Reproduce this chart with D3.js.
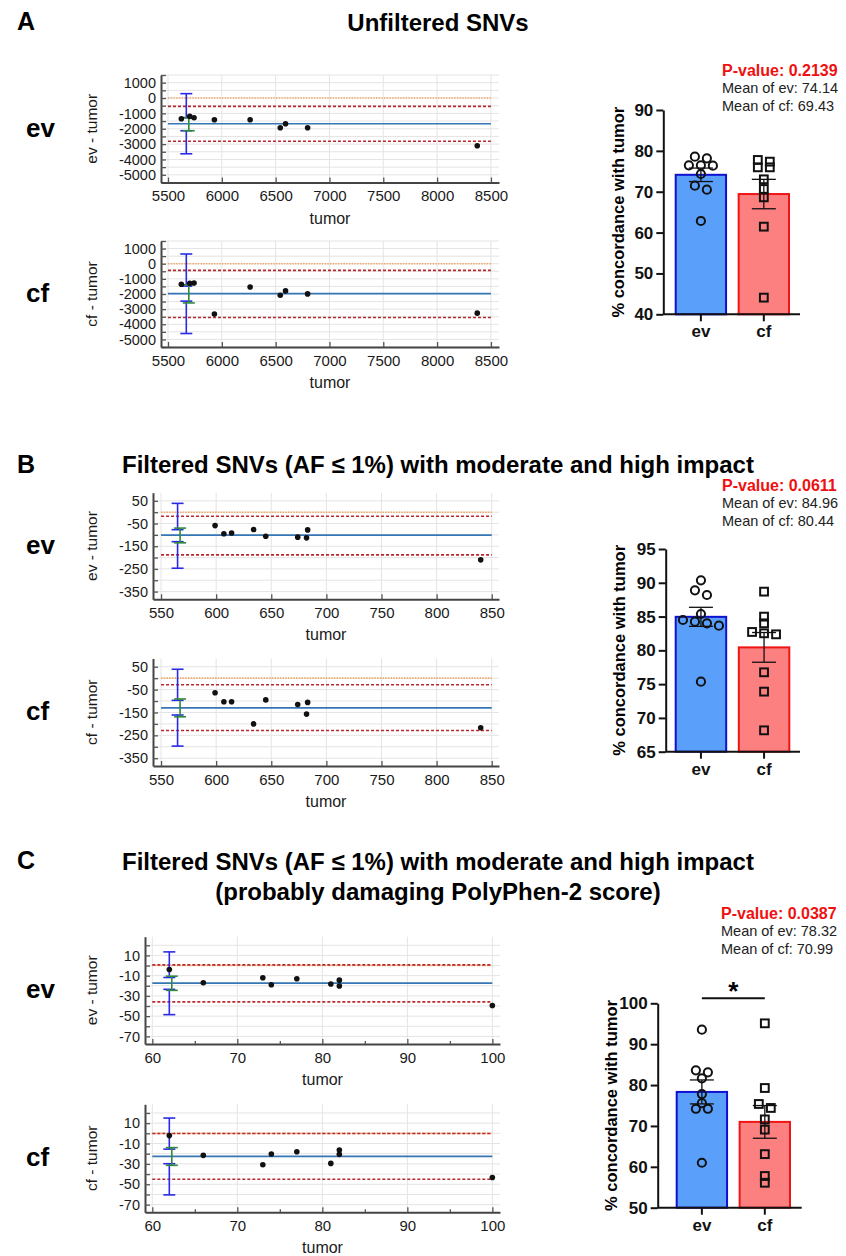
<!DOCTYPE html>
<html>
<head>
<meta charset="utf-8">
<script src="https://cdn.jsdelivr.net/npm/d3@7"></script>
<style>
  body { margin: 0; background: #fff; }
  svg { display: block; font-family: "Liberation Sans", Arial, sans-serif; }
</style>
</head>
<body>
<svg id="fig" width="846" height="1256"></svg>
<script>
const groups = ['ev', 'cf']

// ---- A: unfiltered SNVs ----
const tumorA = [5624, 5702, 5742, 5931, 6263, 6543, 6592, 6797, 8373]
const evDiffA = [-1348, -1196, -1283, -1413, -1413, -1935, -1674, -1935, -3109]
const cfDiffA = [-1358, -1292, -1270, -3328, -1533, -2080, -1796, -1993, -3263]
// upper LoA, mean, lower LoA
const evLinesA = [-540, -1675, -2810]
const cfLinesA = [-438, -1971, -3547]
// CI of upper LoA, CI of mean, CI of lower LoA
const evCiA = [[-1280, 285], [-2130, -1280], [-3630, -2130]]
const cfCiA = [[-1480, 640], [-2590, -1390], [-4610, -2470]]
const xTicksA = [5500, 6000, 6500, 7000, 7500, 8000, 8500]
const yLabelsA = [1000, 0, -1000, -2000, -3000, -4000, -5000]
const evPctA = [78.58, 78.17, 76.46, 76.46, 76.38, 74.34, 71.48, 70.5, 62.84]
const cfPctA = [77.77, 77.36, 75.97, 75.97, 73.03, 70.67, 68.63, 61.45, 44.08]
const meansA = [74.14, 69.43]
const semA = [1.65, 3.6]
const barTicksA = [40, 50, 60, 70, 80, 90]
const pA = '0.2139'

// ---- B: filtered, moderate/high impact ----
const tumorB = [599, 607, 614, 634, 645, 674, 682, 683, 840]
const evDiffB = [-59, -95, -92, -76, -106, -110, -113, -78, -210]
const cfDiffB = [-64, -103, -103, -200, -95, -115, -157, -106, -217]
const evLinesB = [-17.6, -101, -188]
const cfLinesB = [-29, -129.5, -229]
const evCiB = [[-77, 39], [-135, -70], [-247, -130]]
const cfCiB = [[-97, 39], [-169, -91], [-297, -161]]
const xTicksB = [550, 600, 650, 700, 750, 800, 850]
const yLabelsB = [50, -50, -150, -250, -350]
const evPctB = [90.36, 88.88, 88.19, 85.38, 84.49, 84.25, 84.0, 83.65, 75.36]
const cfPctB = [88.69, 84.99, 84.0, 82.72, 82.52, 82.37, 76.75, 73.89, 68.16]
const meansB = [84.96, 80.44]
const semB = [1.41, 2.2]
const barTicksB = [65, 70, 75, 80, 85, 90, 95]
const pB = '0.0611'

// ---- C: + probably damaging PolyPhen-2 ----
const tumorC = [62, 66, 73, 74, 77, 81, 82, 82, 100]
const evDiffC = [-3.9, -17, -12.1, -18.9, -13, -18.3, -14.4, -20.2, -39.5]
const cfDiffC = [-2.2, -21.6, -30.8, -20.3, -18, -29.5, -16.3, -20.6, -43.3]
const evLinesC = [0.65, -17.3, -35.9]
const cfLinesC = [-0.2, -22.6, -45]
const evCiC = [[-11.8, 13.5], [-24.5, -10.5], [-48.5, -23.5]]
const cfCiC = [[-15.5, 15], [-31.4, -14], [-60.4, -29.8]]
const xTicksC = [60, 70, 80, 90, 100]
const yLabelsC = [10, -10, -30, -50, -70]
const evPctC = [93.56, 83.6, 83.12, 81.65, 77.8, 75.6, 74.2, 74.2, 61.0]
const cfPctC = [95.1, 79.28, 75.37, 74.4, 71.6, 69.1, 63.1, 57.75, 56.1]
const meansC = [78.32, 70.99]
const semC = [2.93, 4.0]
const barTicksC = [50, 60, 70, 80, 90, 100]
const pC = '0.0387'

const svg = d3.select('#fig')

function hline (g, x, y, v, color, dash, w) {
  const xs = x.domain()
  g.append('line')
    .attr('x1', x(xs[0])).attr('x2', x(xs[1]))
    .attr('y1', y(v)).attr('y2', y(v))
    .attr('stroke', color).attr('stroke-width', w)
    .attr('stroke-dasharray', dash)
}

function ciBar (g, cx, y, lo, hi, color) {
  g.append('line').attr('x1', cx).attr('x2', cx).attr('y1', y(lo)).attr('y2', y(hi))
    .attr('stroke', color).attr('stroke-width', 1.6)
  ;[lo, hi].forEach(v => {
    g.append('line').attr('x1', cx - 6).attr('x2', cx + 6).attr('y1', y(v)).attr('y2', y(v))
      .attr('stroke', color).attr('stroke-width', 1.6)
  })
}

// Bland-Altman style panel
function drawBA (c) {
  const x = d3.scaleLinear().domain(c.xDomain).range([c.l, c.r])
  const y = d3.scaleLinear().domain(c.yDomain).range([c.b, c.t])
  const g = svg.append('g')
  const yAll = d3.range(c.yStep * Math.ceil(c.yDomain[0] / c.yStep), c.yDomain[1] + 1e-9, c.yStep)

  g.selectAll('.hg').data(yAll).join('line')
    .attr('x1', c.l).attr('x2', c.r)
    .attr('y1', d => y(d)).attr('y2', d => y(d))
    .attr('stroke', '#e4e4e4').attr('stroke-width', 1)
  g.selectAll('.vg').data(c.xTicks).join('line')
    .attr('x1', d => x(d)).attr('x2', d => x(d))
    .attr('y1', c.t).attr('y2', c.b)
    .attr('stroke', '#e4e4e4').attr('stroke-width', 1)

  const xl = d3.scaleLinear().domain(d3.extent(c.xTicks)).range([x(c.xTicks[0]), x(c.xTicks[c.xTicks.length - 1])])
  hline(g, xl, y, 0, '#f3a867', '1.5,1.2', 1.6)
  hline(g, xl, y, c.lines[0], '#b8282e', '3,2', 1.6)
  hline(g, xl, y, c.lines[2], '#b8282e', '3,2', 1.6)
  hline(g, xl, y, c.lines[1], '#3676b4', null, 1.7)

  const cx = x(c.ciX)
  ciBar(g, cx, y, c.ci[0][0], c.ci[0][1], '#2a2ae6')
  ciBar(g, cx, y, c.ci[2][0], c.ci[2][1], '#2a2ae6')
  ciBar(g, cx + 2.5, y, c.ci[1][0], c.ci[1][1], '#2f8a3c')

  g.selectAll('.pt').data(c.tumor).join('circle')
    .attr('cx', d => x(d)).attr('cy', (d, i) => y(c.diff[i]))
    .attr('r', 2.8).attr('fill', '#111')

  const yAxis = g.append('g').attr('transform', `translate(${c.l},0)`)
    .call(d3.axisLeft(y).tickValues(yAll).tickSize(-5).tickSizeOuter(0).tickPadding(5)
      .tickFormat(d => c.yLabels.includes(d) ? d : ''))
  yAxis.attr('font-size', 14.5)
  const xAxis = g.append('g').attr('transform', `translate(0,${c.b})`)
    .call(d3.axisBottom(x).tickValues(c.xTicks).tickSize(-5).tickSizeOuter(0).tickPadding(8)
      .tickFormat(d3.format('d')))
  xAxis.attr('font-size', 15)
  if (c.xMinor) {
    g.append('g').attr('transform', `translate(0,${c.b})`)
      .call(d3.axisBottom(x).tickValues(c.xMinor).tickSize(-3).tickFormat(''))
      .call(a => a.select('.domain').remove())
      .selectAll('line').attr('stroke', '#555').attr('stroke-width', 1.3)
  }
  ;[yAxis, xAxis].forEach(a => {
    a.attr('font-family', null)
    a.select('.domain').attr('stroke', '#444').attr('stroke-width', 2)
    a.selectAll('.tick line').attr('stroke', '#555').attr('stroke-width', 1.3)
    a.selectAll('text').attr('fill', '#1a1a1a')
  })

  g.append('text').attr('x', (c.l + c.r) / 2).attr('y', c.b + 41)
    .attr('text-anchor', 'middle').attr('font-size', 16).attr('fill', '#1a1a1a').text('tumor')
  g.append('text')
    .attr('transform', `translate(${c.yTitleX},${(c.t + c.b) / 2}) rotate(-90)`)
    .attr('text-anchor', 'middle').attr('font-size', 15.5).attr('fill', '#1a1a1a')
    .text(`${c.name} - tumor`)
  g.append('text').attr('x', 26).attr('y', (c.t + c.b) / 2 + 8)
    .attr('font-size', 26).attr('font-weight', 'bold').text(c.name)
}

function swarm (vals, y, cx) {
  const pts = vals.map(v => ({ v, py: y(v) })).sort((a, b) => a.py - b.py)
  const rows = []
  pts.forEach((p, i) => {
    if (i && p.py - pts[i - 1].py < 5.5) rows[rows.length - 1].push(p)
    else rows.push([p])
  })
  rows.forEach(r => r.forEach((p, j) => { p.px = cx + (j - (r.length - 1) / 2) * 12 }))
  return pts
}

// bar + scatter panel
function drawBars (c) {
  const y = d3.scaleLinear().domain(d3.extent(c.ticks)).range([c.b, c.t])
  const x = d3.scaleBand().domain(groups).range(c.band).paddingInner(0.2)
  const g = svg.append('g')
  const fills = ['#5aa0fa', '#fd8080']
  const strokes = ['#1010d0', '#f01515']

  g.selectAll('.bar').data(groups).join('rect')
    .attr('x', d => x(d)).attr('width', x.bandwidth())
    .attr('y', (d, i) => y(c.means[i])).attr('height', (d, i) => c.b - y(c.means[i]))
    .attr('fill', (d, i) => fills[i]).attr('stroke', (d, i) => strokes[i]).attr('stroke-width', 2)

  groups.forEach((grp, i) => {
    const cx = x(grp) + x.bandwidth() / 2
    const lo = c.means[i] - c.sems[i]
    const hi = c.means[i] + c.sems[i]
    g.append('line').attr('x1', cx).attr('x2', cx).attr('y1', y(lo)).attr('y2', y(hi))
      .attr('stroke', '#111').attr('stroke-width', 1.3)
    ;[lo, hi].forEach(v => {
      g.append('line').attr('x1', cx - 12).attr('x2', cx + 12).attr('y1', y(v)).attr('y2', y(v))
        .attr('stroke', '#111').attr('stroke-width', 1.3)
    })
    const pts = swarm(i === 0 ? c.ev : c.cf, y, cx)
    if (i === 0) {
      g.selectAll('.ev').data(pts).join('circle')
        .attr('cx', d => d.px).attr('cy', d => d.py).attr('r', 4.1)
        .attr('fill', 'none').attr('stroke', '#111').attr('stroke-width', 2)
    } else {
      g.selectAll('.cf').data(pts).join('rect')
        .attr('x', d => d.px - 3.9).attr('y', d => d.py - 3.9).attr('width', 7.8).attr('height', 7.8)
        .attr('fill', 'none').attr('stroke', '#111').attr('stroke-width', 2)
    }
  })

  const yAxis = g.append('g').attr('transform', `translate(${c.axisX},0)`)
    .call(d3.axisLeft(y).tickValues(c.ticks).tickSize(7).tickSizeOuter(0).tickPadding(3))
  yAxis.attr('font-family', null).attr('font-size', 17).attr('font-weight', 'bold')
  yAxis.select('.domain').attr('stroke', '#111').attr('stroke-width', 2)
  yAxis.selectAll('.tick line').attr('stroke', '#111').attr('stroke-width', 2)
  yAxis.selectAll('text').attr('fill', '#111')

  const xAxis = g.append('g').attr('transform', `translate(0,${c.b})`)
    .call(d3.axisBottom(x).tickSize(7).tickSizeOuter(0).tickPadding(4))
  xAxis.select('.domain').attr('d', `M${c.axisX},0H${c.axisEnd}`).attr('stroke', '#111').attr('stroke-width', 2)
  xAxis.attr('font-family', null).attr('font-size', 17).attr('font-weight', 'bold')
  xAxis.selectAll('.tick line').attr('stroke', '#111').attr('stroke-width', 2)
  xAxis.selectAll('text').attr('fill', '#111')

  g.append('text')
    .attr('transform', `translate(${c.yTitleX},${(c.t + c.b) / 2}) rotate(-90)`)
    .attr('text-anchor', 'middle').attr('font-size', 16.5).attr('font-weight', 'bold')
    .text('% concordance with tumor')

  g.append('text').attr('x', c.textX).attr('y', c.textY)
    .attr('font-size', 16).attr('font-weight', 'bold').attr('fill', '#f01010')
    .text(`P-value: ${c.p}`)
  groups.forEach((grp, i) => {
    g.append('text').attr('x', c.textX).attr('y', c.textY + 17.5 * (i + 1))
      .attr('font-size', 14.5).attr('fill', '#222')
      .text(`Mean of ${grp}: ${c.means[i].toFixed(2)}`)
  })

  if (c.star) {
    const x0 = x('ev') + x.bandwidth() / 2
    const x1 = x('cf') + x.bandwidth() / 2
    g.append('line').attr('x1', x0).attr('x2', x1).attr('y1', c.t - 5).attr('y2', c.t - 5)
      .attr('stroke', '#111').attr('stroke-width', 2)
    g.append('text').attr('x', (x0 + x1) / 2).attr('y', c.t - 3)
      .attr('text-anchor', 'middle').attr('font-size', 26).attr('font-weight', 'bold').text('*')
  }
}

function title (letter, lines, letterY, lineY) {
  svg.append('text').attr('x', 17).attr('y', letterY)
    .attr('font-size', 25).attr('font-weight', 'bold').text(letter)
  lines.forEach((t, i) => {
    svg.append('text').attr('x', 438).attr('y', lineY + i * 30)
      .attr('text-anchor', 'middle').attr('font-size', 24).attr('font-weight', 'bold').text(t)
  })
}

title('A', ['Unfiltered SNVs'], 30, 31)
title('B', ['Filtered SNVs (AF \u2264 1%) with moderate and high impact'], 473, 473)
title('C', ['Filtered SNVs (AF \u2264 1%) with moderate and high impact', '(probably damaging PolyPhen-2 score)'], 869, 870)

const baseA = { xDomain: [5435, 8575], yDomain: [-5500, 1500], yStep: 500, xTicks: xTicksA, yLabels: yLabelsA, tumor: tumorA, ciX: 5670, l: 161, r: 499, yTitleX: 97 }
drawBA({ ...baseA, name: 'ev', t: 75, b: 182.5, diff: evDiffA, lines: evLinesA, ci: evCiA })
drawBA({ ...baseA, name: 'cf', t: 241, b: 347, diff: cfDiffA, lines: cfLinesA, ci: cfCiA })

const baseB = { xDomain: [542.7, 856.6], yDomain: [-384, 86], yStep: 50, xTicks: xTicksB, yLabels: yLabelsB, tumor: tumorB, ciX: 565, l: 153, r: 499, yTitleX: 97 }
drawBA({ ...baseB, name: 'ev', t: 492.7, b: 599.3, diff: evDiffB, lines: evLinesB, ci: evCiB })
drawBA({ ...baseB, name: 'cf', t: 658.5, b: 766, diff: cfDiffB, lines: cfLinesB, ci: cfCiB })

const baseC = { xDomain: [59.14, 100.9], yDomain: [-77.5, 28.5], yStep: 10, xTicks: xTicksC, xMinor: [65, 75, 85, 95], yLabels: yLabelsC, tumor: tumorC, ciX: 62, l: 145, r: 500, yTitleX: 97 }
drawBA({ ...baseC, name: 'ev', t: 936.7, b: 1044, diff: evDiffC, lines: evLinesC, ci: evCiC })
drawBA({ ...baseC, name: 'cf', t: 1104.3, b: 1212.3, diff: cfDiffC, lines: cfLinesC, ci: cfCiC })

drawBars({ ticks: barTicksA, t: 110, b: 314.3, axisX: 663.3, axisEnd: 800, band: [675.7, 789], ev: evPctA, cf: cfPctA, means: meansA, sems: semA, p: pA, textX: 722, textY: 75.5, yTitleX: 624 })
drawBars({ ticks: barTicksB, t: 549, b: 751.7, axisX: 665.7, axisEnd: 800, band: [675.7, 789.3], ev: evPctB, cf: cfPctB, means: meansB, sems: semB, p: pB, textX: 722, textY: 490.5, yTitleX: 625 })
drawBars({ ticks: barTicksC, t: 1003.3, b: 1207.7, axisX: 657.7, axisEnd: 801.7, band: [676.7, 790], ev: evPctC, cf: cfPctC, means: meansC, sems: semC, p: pC, textX: 721, textY: 918.5, yTitleX: 617, star: true })
</script>
</body>
</html>
